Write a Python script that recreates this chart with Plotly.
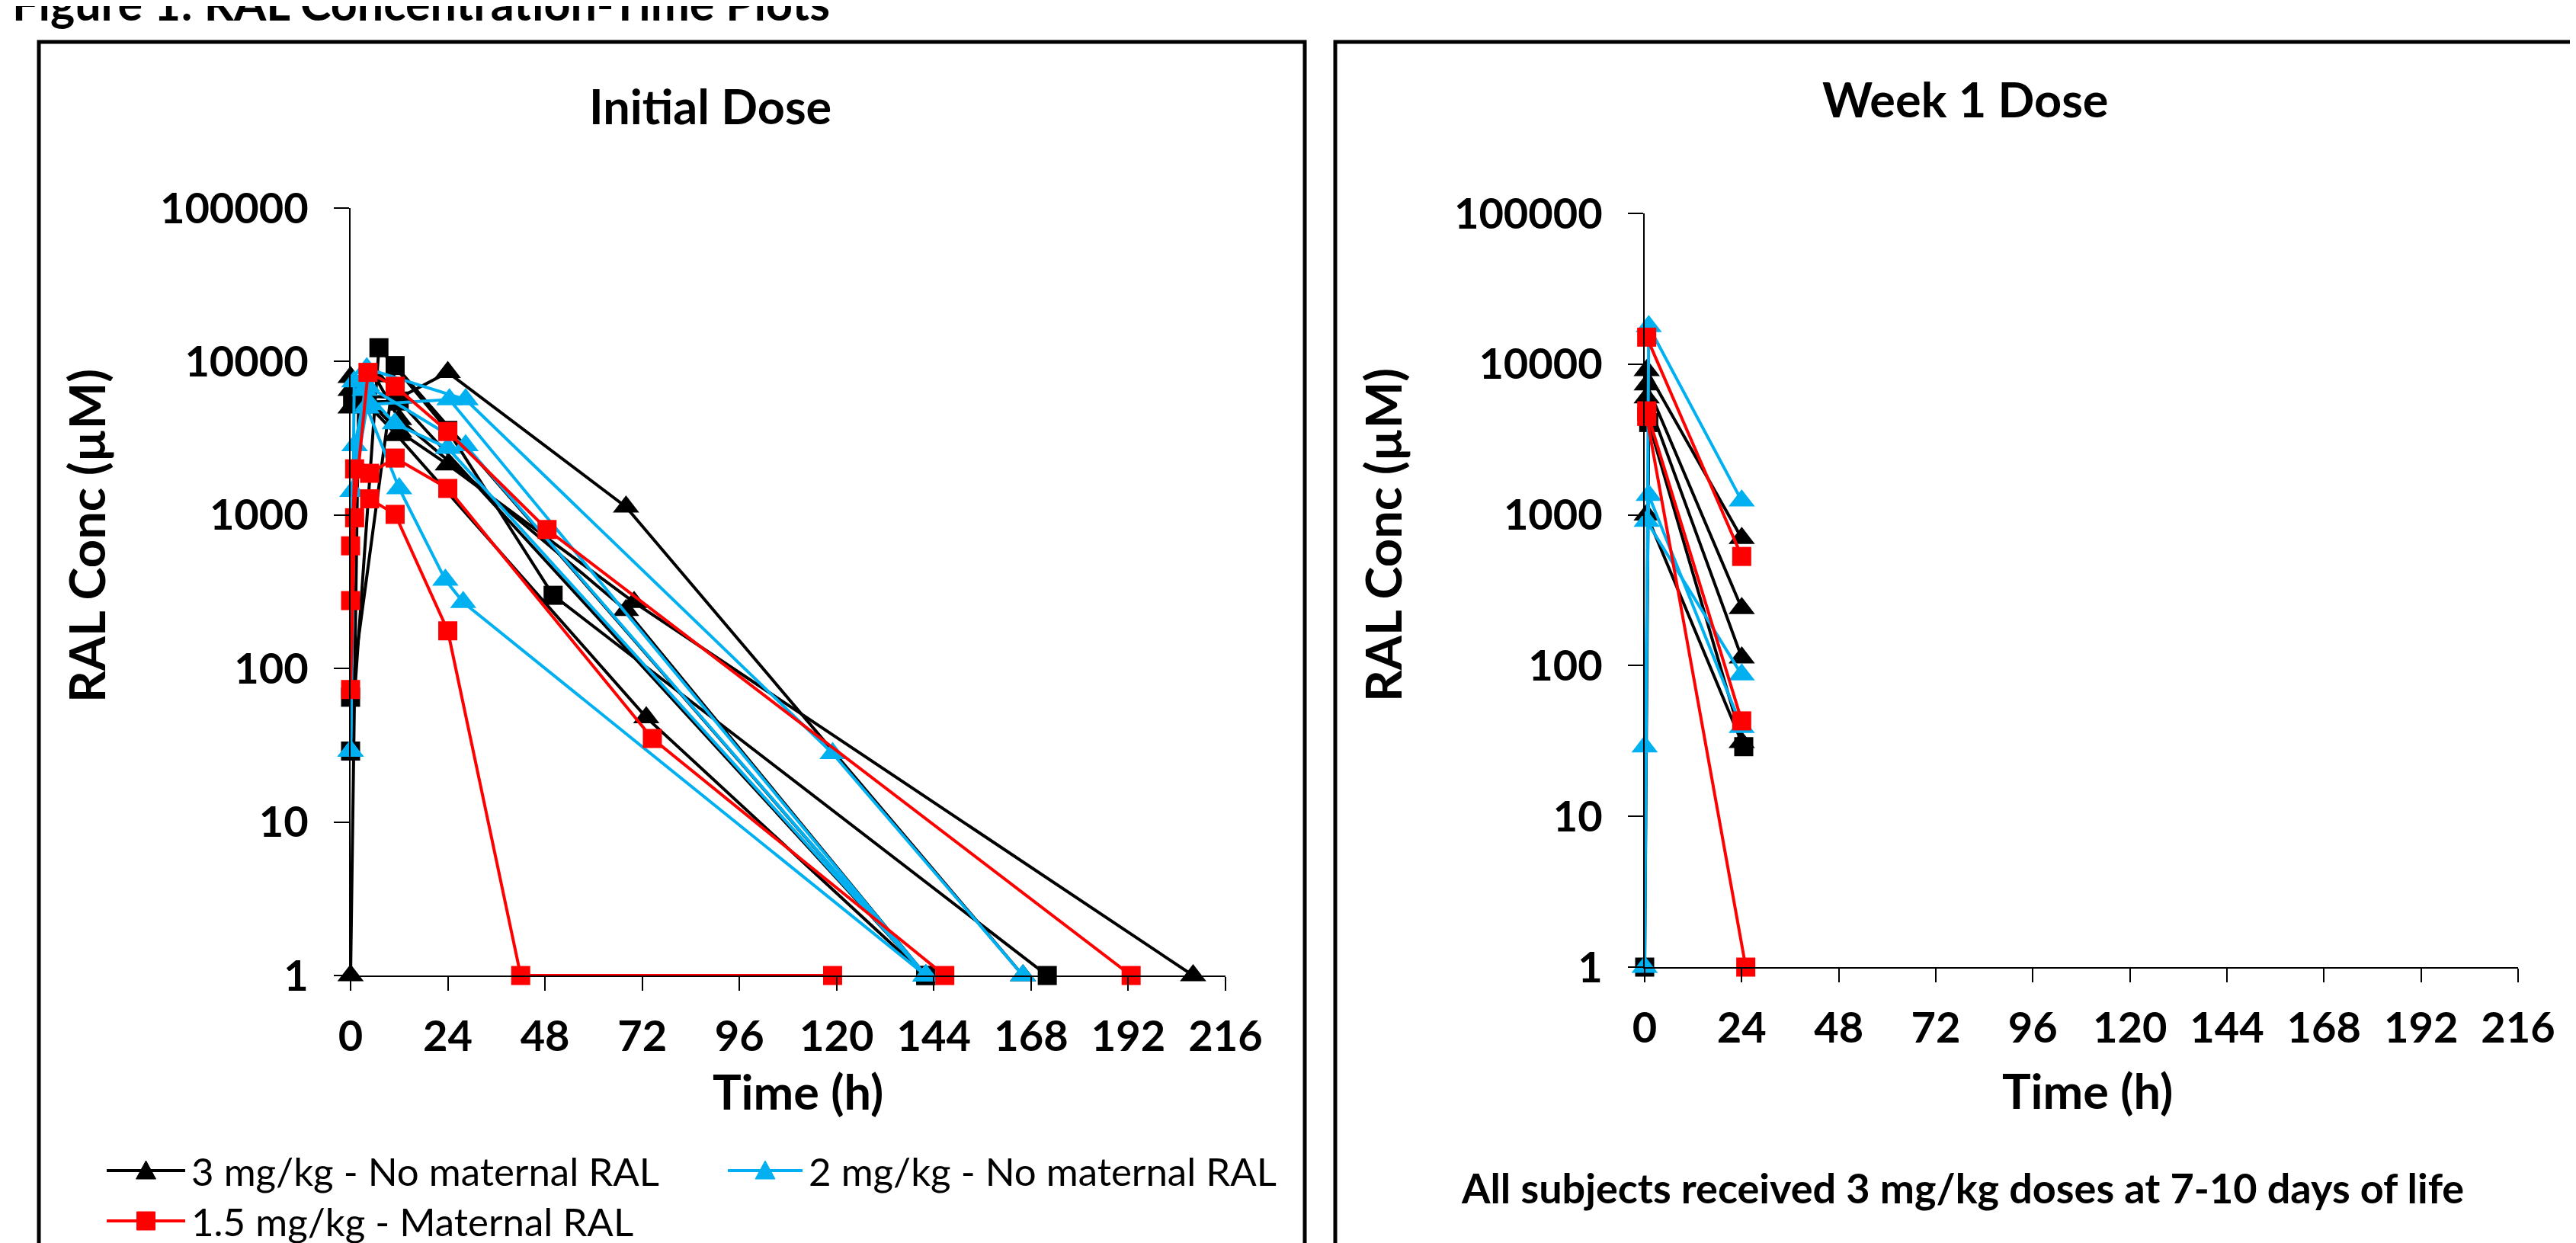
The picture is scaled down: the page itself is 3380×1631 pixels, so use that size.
import plotly.graph_objects as go

# ---------------- data ----------------
# Initial dose panel: each inner list is one subject (time h, conc)
init_3mg_tri_t = [[0, 2, 12, 24, 68, 166],
                  [0, 3, 12, 24, 70, 208],
                  [0, 5, 11.5, 73, 142],
                  [0, 6, 12, 68, 142]]
init_3mg_tri_c = [[1, 6000, 5800, 8500, 1130, 1],
                  [7900, 6000, 3500, 2130, 270, 1],
                  [6500, 5000, 3300, 48, 1],
                  [5000, 8000, 4200, 240, 1]]

init_3mg_sq_t = [[0, 7, 24, 50, 172],
                 [0, 11, 142],
                 [0.5, 12, 142]]
init_3mg_sq_c = [[29, 12300, 3560, 300, 1],
                 [65, 9420, 1],
                 [5400, 5530, 1]]

init_2mg_t = [[0, 0.9, 4, 28.4, 119, 166],
              [0, 1, 4.3, 24.4, 142],
              [0, 0.5, 3.5, 10.9, 24, 142],
              [0, 0.5, 4, 12, 23.4, 27.8, 142],
              [0, 1, 4, 28.4, 142]]
init_2mg_c = [[29, 7400, 9000, 5650, 28, 1],
              [29, 2840, 5250, 5650, 1],
              [29, 1430, 6500, 3940, 2730, 1],
              [29, 1430, 5000, 1490, 378, 270, 1],
              [29, 2840, 7000, 2840, 1]]

init_15mg_t = [[0, 1, 4.7, 11, 24, 42, 119],
               [0, 1, 4.7, 11, 24, 74.5, 146.7],
               [0, 4.3, 11, 24, 48.5, 192.7]]
init_15mg_c = [[73, 960, 1275, 1010, 176, 1, 1],
               [277, 2000, 1870, 2350, 1490, 35, 1],
               [630, 8500, 6900, 3500, 805, 1]]

# Week 1 dose panel
wk1_3mg_tri_t = [[0.5, 24], [0.5, 24], [0.5, 24], [0.5, 24]]
wk1_3mg_tri_c = [[9100, 700], [7300, 240], [6000, 113], [1000, 31]]
wk1_3mg_sq_t = [[0, 1, 24.5]]
wk1_3mg_sq_c = [[1, 4100, 29]]
wk1_2mg_t = [[0, 1, 24], [0, 1, 24], [0.5, 24]]
wk1_2mg_c = [[1, 17800, 1240], [29, 1350, 39], [910, 87]]
wk1_15mg_t = [[0.5, 24], [0.5, 24], [0.5, 25]]
wk1_15mg_c = [[15100, 530], [4900, 43], [4500, 1]]

x_ticks = [0, 24, 48, 72, 96, 120, 144, 168, 192, 216]
y_ticks = [1, 10, 100, 1000, 10000, 100000]
y_tick_text = ["1", "10", "100", "1000", "10000", "100000"]

legend_labels = ["3 mg/kg - No maternal RAL", "2 mg/kg - No maternal RAL", "1.5 mg/kg - Maternal RAL"]

BLACK = "#000000"
BLUE = "#00B0F0"
RED = "#FF0000"

W, H = 3380, 1631


def px(x):
    return x / W


def py(y):
    return 1 - y / H


fig = go.Figure()

TRI = 30
SQ = 25
LW = 4


def add_group(ts, cs, color, symbol, size, xa, ya):
    for t, c in zip(ts, cs):
        fig.add_trace(go.Scatter(
            x=t, y=c, mode="lines+markers", xaxis=xa, yaxis=ya,
            line=dict(color=color, width=LW),
            marker=dict(symbol=symbol, size=size, color=color, line=dict(width=0)),
            cliponaxis=False, showlegend=False, hoverinfo="x+y"))


for xa, ya, groups in [
    ("x", "y", [(init_3mg_tri_t, init_3mg_tri_c, BLACK, "triangle-up", TRI),
                (init_3mg_sq_t, init_3mg_sq_c, BLACK, "square", SQ),
                (init_2mg_t, init_2mg_c, BLUE, "triangle-up", TRI),
                (init_15mg_t, init_15mg_c, RED, "square", SQ)]),
    ("x2", "y2", [(wk1_3mg_tri_t, wk1_3mg_tri_c, BLACK, "triangle-up", TRI),
                  (wk1_3mg_sq_t, wk1_3mg_sq_c, BLACK, "square", SQ),
                  (wk1_2mg_t, wk1_2mg_c, BLUE, "triangle-up", TRI),
                  (wk1_15mg_t, wk1_15mg_c, RED, "square", SQ)])]:
    for g in groups:
        add_group(*g, xa, ya)

TICKFONT = dict(family="Lato", size=56, color="black", weight="bold")

xcommon = dict(range=[0, 216], tickvals=x_ticks, ticks="outside", ticklen=18, tickwidth=2,
               tickcolor="black", showline=True, linecolor="black", linewidth=2,
               showgrid=False, zeroline=False, tickfont=TICKFONT, ticklabelstandoff=12)
ycommon = dict(type="log", range=[0, 5], tickvals=y_ticks, ticktext=y_tick_text, ticks="outside",
               ticklen=20, tickwidth=2, tickcolor="black", showline=True, linecolor="black",
               linewidth=2, showgrid=False, zeroline=False, tickfont=TICKFONT, ticklabelstandoff=22)

fig.update_layout(
    width=W, height=H, margin=dict(l=0, r=0, t=0, b=0, pad=0, autoexpand=False),
    paper_bgcolor="white", plot_bgcolor="white", showlegend=False,
    font=dict(family="Lato", color="black"),
    xaxis=dict(domain=[px(452), px(1600)], anchor="y", automargin=False, **xcommon),
    yaxis=dict(domain=[py(1272), py(265)], anchor="x", automargin=False, **ycommon),
    xaxis2=dict(domain=[px(2150), px(3296)], anchor="y2", automargin=False, **xcommon),
    yaxis2=dict(domain=[py(1261), py(272)], anchor="x2", automargin=False, **ycommon),
)

ann = []


def text(x, y, s, size, bold=True, angle=0, xanchor="center", yanchor="middle"):
    ann.append(dict(x=px(x), y=py(y), xref="paper", yref="paper", text=s, showarrow=False,
                    textangle=angle, xanchor=xanchor, yanchor=yanchor,
                    font=dict(family="Lato", size=size, color="black",
                              weight="bold" if bold else "normal")))


text(6, 34, "Figure 1: RAL Concentration-Time Plots", 61, xanchor="left", yanchor="bottom")
text(924, 130, "Initial Dose", 63)
text(2571, 122, "Week 1 Dose", 63)
text(105, 695, "RAL Conc (µM)", 65, angle=-90)
text(1806, 694, "RAL Conc (µM)", 65, angle=-90)
text(1039, 1423, "Time (h)", 63)
text(2731, 1422, "Time (h)", 63)
text(3227, 1550, "All subjects received 3 mg/kg doses at 7-10 days of life", 54, xanchor="right")

# legend (left panel)
shapes = []
leg_items = [(132, 235, 1528, BLACK, "tri", legend_labels[0]),
             (947, 1045, 1528, BLUE, "tri", legend_labels[1]),
             (132, 235, 1594, RED, "sq", legend_labels[2])]
for x0, x1, yy, col, kind, lab in leg_items:
    shapes.append(dict(type="line", xref="paper", yref="paper", x0=px(x0), x1=px(x1),
                       y0=py(yy), y1=py(yy), line=dict(color=col, width=4)))
    cx = (x0 + x1) / 2
    if kind == "tri":
        path = (f"M{px(cx - 13)},{py(yy + 11)} L{px(cx + 13)},{py(yy + 11)} "
                f"L{px(cx)},{py(yy - 13)} Z")
        shapes.append(dict(type="path", xref="paper", yref="paper", path=path,
                           fillcolor=col, line=dict(color=col, width=1)))
    else:
        shapes.append(dict(type="rect", xref="paper", yref="paper", x0=px(cx - 12), x1=px(cx + 12),
                           y0=py(yy + 12), y1=py(yy - 12), fillcolor=col, line=dict(color=col, width=1)))
    text(x1 + 6, yy, lab, 51, bold=False, xanchor="left")

# panel borders
shapes.append(dict(type="rect", xref="paper", yref="paper", x0=px(43), x1=px(1704),
                   y0=py(1660), y1=py(47), line=dict(color="black", width=5)))
shapes.append(dict(type="rect", xref="paper", yref="paper", x0=px(1744), x1=px(3420),
                   y0=py(1660), y1=py(47), line=dict(color="black", width=5)))

fig.update_layout(annotations=ann, shapes=shapes)
fig.write_html("out.html")
